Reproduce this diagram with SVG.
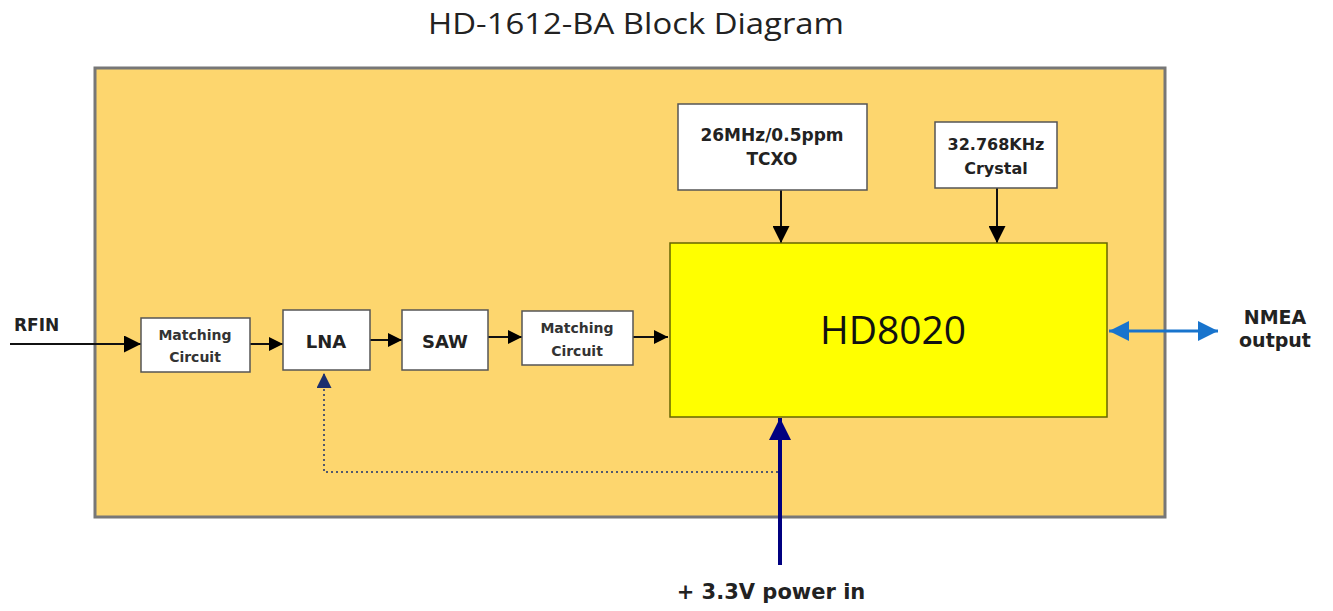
<svg xmlns="http://www.w3.org/2000/svg" width="1333" height="611" viewBox="0 0 1333 611">
<style>
.box{fill:#fff;stroke:#555;stroke-width:1.5}
.lbl{font-family:Verdana,"DejaVu Sans",sans-serif;font-weight:bold;fill:#222;text-anchor:middle}
.mc{font-size:14px;fill:#333}
.wire{stroke:#111;stroke-width:2;fill:none}
</style>
<defs>
<marker id="ah" viewBox="0 0 10 10" refX="10" refY="5" markerWidth="14" markerHeight="14" markerUnits="userSpaceOnUse" orient="auto"><path d="M0,0 L10,5 L0,10 z" fill="#000"/></marker>
<marker id="ahL" viewBox="0 0 10 10" refX="10" refY="5" markerWidth="17" markerHeight="17" markerUnits="userSpaceOnUse" orient="auto"><path d="M0,0 L10,5 L0,10 z" fill="#000"/></marker>
<marker id="ahB" viewBox="0 0 10 10" refX="10" refY="5" markerWidth="20" markerHeight="20" markerUnits="userSpaceOnUse" orient="auto-start-reverse"><path d="M0,0 L10,5 L0,10 z" fill="#1874CD"/></marker>
<marker id="ahN" viewBox="0 0 10 10" refX="10" refY="5" markerWidth="22" markerHeight="22" markerUnits="userSpaceOnUse" orient="auto"><path d="M0,0 L10,5 L0,10 z" fill="#000080"/></marker>
<marker id="ahD" viewBox="0 0 10 10" refX="10" refY="5" markerWidth="15" markerHeight="15" markerUnits="userSpaceOnUse" orient="auto"><path d="M0,0 L10,5 L0,10 z" fill="#1a2f6e"/></marker>
</defs>
<rect width="1333" height="611" fill="#fff"/>
<text x="636" y="34" font-family="'Open Sans','Liberation Sans',sans-serif" font-size="29" fill="#222" text-anchor="middle" textLength="416" lengthAdjust="spacingAndGlyphs">HD-1612-BA Block Diagram</text>
<g id="board"><rect x="95" y="68" width="1070" height="449" fill="#FDD66E" stroke="#777" stroke-width="3"/></g>

<g id="connectors">
<line class="wire" x1="10" y1="344" x2="141" y2="344" stroke-width="3" marker-end="url(#ahL)"/>
<line class="wire" x1="250" y1="344" x2="283" y2="344" marker-end="url(#ah)"/>
<line class="wire" x1="370" y1="340" x2="402" y2="340" marker-end="url(#ah)"/>
<line class="wire" x1="488" y1="337" x2="522" y2="337" marker-end="url(#ah)"/>
<line class="wire" x1="633" y1="337" x2="668" y2="337" marker-end="url(#ah)"/>
<line class="wire" x1="781" y1="190" x2="781" y2="243" marker-end="url(#ahL)"/>
<line class="wire" x1="997" y1="188" x2="997" y2="243" stroke="#5a4a20" marker-end="url(#ahL)"/>
<line x1="1109" y1="331" x2="1218" y2="331" stroke="#1874CD" stroke-width="3" marker-start="url(#ahB)" marker-end="url(#ahB)"/>
<line x1="780" y1="565" x2="780" y2="418" stroke="#000080" stroke-width="4" marker-end="url(#ahN)"/>
<polyline points="778,472 324,472 324,373" fill="none" stroke="#1a2f6e" stroke-width="1.5" stroke-dasharray="2,3" marker-end="url(#ahD)"/>
</g>

<g id="rfin"><text x="14" y="331" class="lbl" style="text-anchor:start" font-size="17">RFIN</text></g>
<g id="mc1"><rect class="box" x="141" y="318" width="109" height="54"/><text class="lbl mc" x="195" y="340">Matching</text><text class="lbl mc" x="195" y="362">Circuit</text></g>
<g id="lna"><rect class="box" x="283" y="310" width="87" height="60"/><text class="lbl" x="326" y="348" font-size="18">LNA</text></g>
<g id="saw"><rect class="box" x="402" y="310" width="86" height="60"/><text class="lbl" x="445" y="348" font-size="18">SAW</text></g>
<g id="mc2"><rect class="box" x="522" y="311" width="111" height="54"/><text class="lbl mc" x="577" y="333">Matching</text><text class="lbl mc" x="577" y="356">Circuit</text></g>
<g id="hd8020"><rect x="670" y="243" width="437" height="174" fill="#FFFF00" stroke="#666600" stroke-width="1.5"/><text x="893" y="344" font-family="'Open Sans','Liberation Sans',sans-serif" font-size="39" fill="#111" text-anchor="middle">HD8020</text></g>
<g id="tcxo"><rect class="box" x="678" y="104" width="189" height="86"/><text class="lbl" x="772" y="141" font-size="17">26MHz/0.5ppm</text><text class="lbl" x="772" y="165" font-size="17">TCXO</text></g>
<g id="crystal"><rect class="box" x="935" y="122" width="122" height="66"/><text class="lbl" x="996" y="150" font-size="16">32.768KHz</text><text class="lbl" x="996" y="174" font-size="16">Crystal</text></g>
<g id="nmea"><text class="lbl" x="1275" y="324" font-size="19">NMEA</text><text class="lbl" x="1275" y="347" font-size="19">output</text></g>
<g id="power"><text class="lbl" x="771" y="599" font-size="21">+ 3.3V power in</text></g>
</svg>
